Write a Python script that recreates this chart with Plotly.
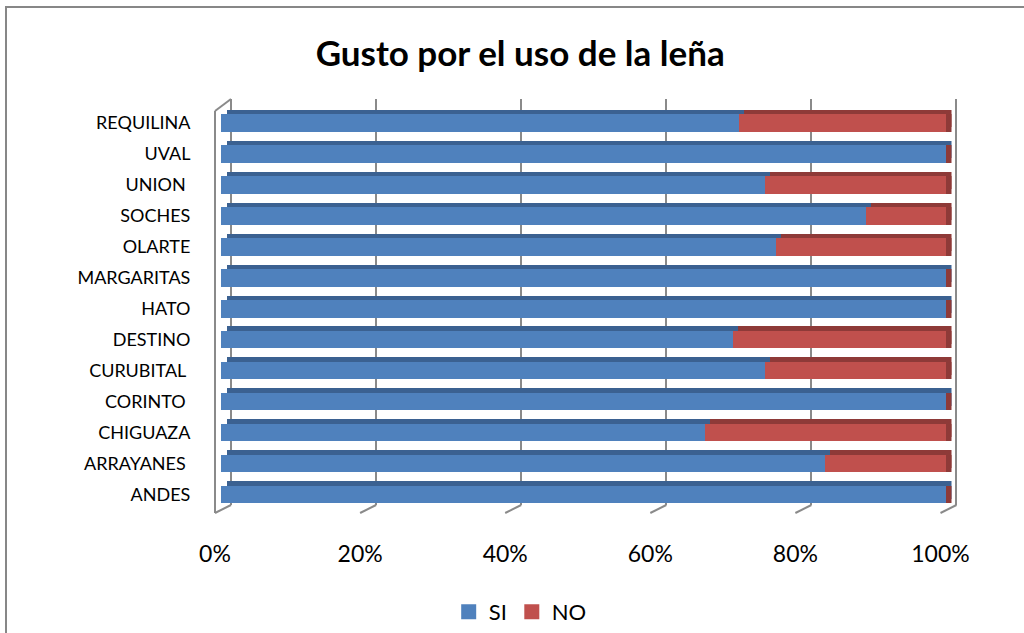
import plotly.graph_objects as go

# Survey: preference for using firewood, by locality (share of answers, %)
localidades = ["ANDES", "ARRAYANES\u00a0", "CHIGUAZA", "CORINTO\u00a0", "CURUBITAL\u00a0",
               "DESTINO", "HATO", "MARGARITAS", "OLARTE", "SOCHES", "UNION\u00a0",
               "UVAL", "REQUILINA"]
si = [100, 83.3, 66.7, 100, 75, 70.6, 100, 100, 76.5, 88.9, 75, 100, 71.4]
no = [0, 16.7, 33.3, 0, 25, 29.4, 0, 0, 23.5, 11.1, 25, 0, 28.6]
tick_vals = [0, 20, 40, 60, 80, 100]
tick_text = ["0%", "20%", "40%", "60%", "80%", "100%"]

W, H = 1024, 633
FONT = "Lato"
BLUE, RED = "#4F81BD", "#C0504D"
BLUE_DARK, RED_DARK = "#3B6191", "#8E3A38"
GRID = "#8a8a8a"


def px_y(top, bottom):
    return [(H - bottom) / H, (H - top) / H]


def pct_axis(p0, p100, pad=0.0):
    """Domain/range so that 0 % sits at pixel p0 and 100 % at p100."""
    k = (p100 - p0) / 100.0
    return dict(domain=[(p0 - pad) / W, (p100 + pad) / W],
                range=[-pad / k, 100 + pad / k])


fig = go.Figure()

# legend entries (they also create the back-wall subplot that carries the gridlines)
for name, col in [("SI", BLUE), ("NO", RED)]:
    fig.add_trace(go.Scatter(x=[None], y=[None], mode="markers", name=name,
                             marker=dict(symbol="square", size=15, color=col),
                             xaxis="x", yaxis="y"))

bar_common = dict(orientation="h", marker_line_width=0, showlegend=False,
                  hoverinfo="skip")
# top faces of the bars (shifted up and right)
fig.add_trace(go.Bar(y=localidades, x=si, marker_color=BLUE_DARK, xaxis="x2",
                     yaxis="y2", **bar_common))
fig.add_trace(go.Bar(y=localidades, x=no, marker_color=RED_DARK, xaxis="x2",
                     yaxis="y2", **bar_common))
# right-hand end faces (shifted right)
fig.add_trace(go.Bar(y=localidades, x=si, marker_color=RED_DARK, xaxis="x3",
                     yaxis="y3", **bar_common))
fig.add_trace(go.Bar(y=localidades, x=no, marker_color=RED_DARK, xaxis="x3",
                     yaxis="y3", **bar_common))
# front faces
fig.add_trace(go.Bar(y=localidades, x=si, marker_color=BLUE, xaxis="x4",
                     yaxis="y4", name="SI", orientation="h", marker_line_width=0,
                     showlegend=False))
fig.add_trace(go.Bar(y=localidades, x=no, marker_color=RED, xaxis="x4",
                     yaxis="y4", name="NO", orientation="h", marker_line_width=0,
                     showlegend=False))
# percentage labels subplot
fig.add_trace(go.Scatter(x=[None], y=[None], showlegend=False, hoverinfo="skip",
                         xaxis="x5", yaxis="y5"))

cat_axis = dict(type="category", categoryorder="array", categoryarray=localidades,
                range=[-0.5, len(localidades) - 0.5], fixedrange=True,
                automargin=False)
hidden_x = dict(visible=False, fixedrange=True, automargin=False)

fig.update_layout(
    width=W, height=H,
    margin=dict(l=0, r=0, t=0, b=0, autoexpand=False),
    paper_bgcolor="white", plot_bgcolor="rgba(0,0,0,0)",
    barmode="stack", bargap=0.435,
    font=dict(family=FONT, color="black"),
    title=dict(text="Gusto por el uso de la leña", x=0.508, xanchor="center",
               y=1 - 54 / H, yanchor="middle",
               font=dict(family=FONT, size=35, weight="bold", color="black")),
    legend=dict(orientation="h", x=0.508, xanchor="center", y=1 - 612 / H,
                yanchor="middle", font=dict(family=FONT, size=22),
                itemsizing="trace", traceorder="normal"),
    # back wall gridlines
    xaxis=dict(**pct_axis(231, 956, pad=3), tickvals=tick_vals,
               showgrid=True, gridcolor=GRID, gridwidth=2, zeroline=False,
               showticklabels=False, showline=False, ticks="", fixedrange=True,
               anchor="y", automargin=False),
    yaxis=dict(domain=px_y(99, 505), range=[0, 1], visible=False, showgrid=False,
               zeroline=False, anchor="x", fixedrange=True, automargin=False),
    # bar top faces
    xaxis2=dict(**pct_axis(226.5, 951.5), anchor="y2", **hidden_x),
    yaxis2=dict(domain=px_y(103, 505.5), visible=False, anchor="x2", **cat_axis),
    # bar end faces
    xaxis3=dict(**pct_axis(226.5, 951.5), anchor="y3", **hidden_x),
    yaxis3=dict(domain=px_y(107.5, 510), visible=False, anchor="x3", **cat_axis),
    # bar fronts with category labels
    xaxis4=dict(**pct_axis(221, 946), anchor="y4", **hidden_x),
    yaxis4=dict(domain=px_y(107.5, 510), anchor="x4", showgrid=False, zeroline=False,
                showline=False, ticks="outside", ticklen=26,
                tickcolor="rgba(0,0,0,0)", tickfont=dict(family=FONT, size=18),
                **cat_axis),
    # percentage labels along the front of the floor
    xaxis5=dict(**pct_axis(215, 940.5, pad=30), tickvals=tick_vals,
                ticktext=tick_text, showgrid=False, zeroline=False, showline=False,
                ticks="", tickfont=dict(family=FONT, size=23), anchor="y5",
                fixedrange=True, automargin=False),
    yaxis5=dict(domain=px_y(520, 538), range=[0, 1], visible=False, anchor="x5",
                fixedrange=True, automargin=False),
)

line = dict(color=GRID, width=2)
# left wall edge
fig.add_shape(type="line", xref="x5", yref="paper", x0=0, x1=0,
              y0=(H - 513) / H, y1=(H - 111) / H, line=line)
fig.add_shape(type="line", xref="x5", xsizemode="pixel", xanchor=0, x0=0, x1=16,
              yref="paper", y0=(H - 111) / H, y1=(H - 99) / H, line=line)
# floor tick marks running from the front edge back to the wall
for v in tick_vals:
    fig.add_shape(type="line", xref="x5", xsizemode="pixel", xanchor=v, x0=0, x1=16,
                  yref="paper", y0=(H - 513) / H, y1=(H - 505) / H, line=line)

# chart frame
fig.add_shape(type="rect", xref="paper", yref="paper", x0=6 / W, x1=1.05,
              y0=-0.05, y1=(H - 7) / H, line=dict(color="#878787", width=2),
              fillcolor="rgba(0,0,0,0)")

fig.write_html("out.html")
